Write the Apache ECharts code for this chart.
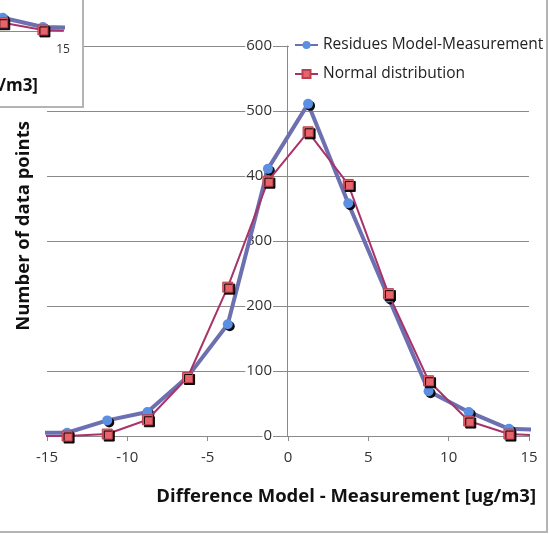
<!DOCTYPE html>
<html>
<head>
<meta charset="utf-8">
<script src="https://cdn.jsdelivr.net/npm/echarts@6/dist/echarts.min.js"></script>
<style>
  html, body { margin: 0; padding: 0; background: #fff; }
  #frame { position: absolute; left: 0; top: 0; width: 546px; height: 531px;
           border-right: 2px solid #b4b4b4; border-bottom: 2px solid #b4b4b4; }
  #main { position: absolute; left: 0; top: 0; width: 546px; height: 531px; }
  #insetBox { position: absolute; left: 0; top: 0; width: 82px; height: 106px; background: #fff; overflow: hidden;
           border-right: 2px solid #b4b4b4; border-bottom: 2px solid #b4b4b4; z-index: 5; }
  #inset { position: absolute; left: -466px; top: -231px; width: 546px; height: 531px; }
</style>
</head>
<body>
<div id="frame"><div id="main"></div></div>
<div id="insetBox"><div id="inset"></div></div>
<script>
// ---- data ----
const binCenters = [-16.25, -13.75, -11.25, -8.75, -6.25, -3.75, -1.25, 1.25, 3.75, 6.25, 8.75, 11.25, 13.75, 16.25];
const residues   = [5, 5, 24, 37, 91, 172, 411, 511, 358, 213, 69, 37, 11, 9];
const normalDist = [0, 0, 3, 25, 90, 229, 392, 468, 387, 219, 85, 23, 3, 0];
const seriesNames = ['Residues Model-Measurement', 'Normal distribution'];
const xTitle = 'Difference Model - Measurement [ug/m3]';
const yTitle = 'Number of data points';

const pairs = arr => binCenters.map((x, i) => [x, arr[i]]);
const FONT = '"Open Sans", Lato, sans-serif';

function makeSeries() {
  return [
    {
      name: seriesNames[0], type: 'line', data: pairs(residues), clip: true,
      symbol: 'circle', symbolSize: 10, z: 3,
      lineStyle: { color: '#6d70b0', width: 4 },
      itemStyle: { color: '#5b8fe2', shadowColor: 'rgba(0,0,0,0.95)', shadowOffsetX: 2, shadowOffsetY: 2, shadowBlur: 0.1 }
    },
    {
      name: seriesNames[1], type: 'line', data: pairs(normalDist), clip: true,
      symbol: 'rect', symbolSize: 10, z: 4,
      lineStyle: { color: '#a8336a', width: 2 },
      itemStyle: { color: '#e8636c', borderColor: '#b8404f', borderWidth: 1,
                   shadowColor: 'rgba(0,0,0,0.95)', shadowOffsetX: 2, shadowOffsetY: 2, shadowBlur: 0.1 }
    }
  ];
}

const main = echarts.init(document.getElementById('main'), null, { renderer: 'canvas' });
main.setOption({
  animation: false,
  backgroundColor: '#fff',
  grid: { left: 47, top: 46, width: 482, height: 390, containLabel: false },
  title: {
    text: xTitle, right: 5, top: 482,
    textStyle: { fontFamily: FONT, fontWeight: 'bold', fontSize: 18.5, color: '#111' }
  },
  graphic: [{
    type: 'text', x: 24, y: 226, rotation: Math.PI / 2, z: 10,
    style: { text: yTitle, fontFamily: FONT, fontWeight: 'bold', fontSize: 18.5, fill: '#111',
             align: 'center', verticalAlign: 'middle' }
  }],
  legend: {
    orient: 'vertical', left: 289, top: 33, padding: [4, 5, 4, 5],
    backgroundColor: '#fff', itemWidth: 23, itemHeight: 10, itemGap: 13,
    textStyle: { fontFamily: FONT, fontSize: 15.5, color: '#222' },
    data: seriesNames
  },
  xAxis: {
    type: 'value', min: -15, max: 15, interval: 5,
    axisLine: { show: true, onZero: false, lineStyle: { color: '#8a8a8a', width: 1 } },
    axisTick: { show: true, length: 5, lineStyle: { color: '#8a8a8a' } },
    axisLabel: { margin: 14, fontFamily: FONT, fontSize: 15, color: '#333' },
    splitLine: { show: false }
  },
  yAxis: {
    type: 'value', min: 0, max: 600, interval: 100,
    position: 'left', offset: -240,
    axisLine: { show: true, onZero: false, lineStyle: { color: '#8a8a8a', width: 1 } },
    axisTick: { show: false },
    axisLabel: { margin: 14, fontFamily: FONT, fontSize: 15, color: '#333',
                 backgroundColor: '#fff', padding: [0, 1, 0, 1] },
    splitLine: { show: true, lineStyle: { color: '#8a8a8a', width: 1 } }
  },
  series: makeSeries()
});

// ---- inset (partially visible neighbouring chart) ----
const inset = echarts.init(document.getElementById('inset'), null, { renderer: 'canvas' });
inset.setOption({
  animation: false,
  backgroundColor: '#fff',
  grid: { left: 47, width: 482, top: 46, height: 216, containLabel: false },
  title: {
    text: xTitle, right: 37, top: 304,
    textStyle: { fontFamily: FONT, fontWeight: 'bold', fontSize: 17, color: '#111' }
  },
  xAxis: {
    type: 'value', min: -15, max: 15, interval: 5,
    axisLine: { show: true, lineStyle: { color: '#8a8a8a' } },
    axisTick: { show: false },
    axisLabel: { margin: 13, fontFamily: FONT, fontSize: 12, color: '#333' },
    splitLine: { show: false }
  },
  yAxis: {
    type: 'value', min: 0, max: 600, interval: 100,
    axisLine: { show: false }, axisTick: { show: false }, axisLabel: { show: false },
    splitLine: { show: false }
  },
  series: makeSeries()
});
</script>
</body>
</html>
